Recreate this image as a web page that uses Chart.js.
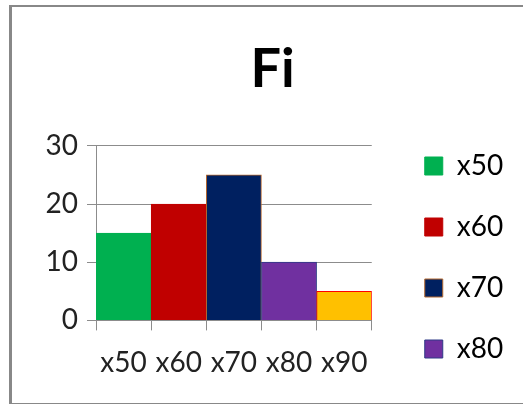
<!DOCTYPE html>
<html lang="en">
  <head>
    <meta charset="UTF-8" />
    <title>Fi</title>
    <script src="https://cdn.jsdelivr.net/npm/chart.js"></script>
    <style>
      html, body { margin: 0; padding: 0; background: #fff; overflow: hidden; }
      .frame {
        position: absolute; left: 9px; top: 5px; width: 600px; height: 396px;
        border-left: 3px solid #888; border-top: 2px solid #888; border-bottom: 3px solid #888;
      }
      .wrap { position: absolute; left: 0; top: 0; width: 523px; height: 404px; }
    </style>
  </head>
  <body>
    <div class="frame"></div>
    <div class="wrap"><canvas id="myChart"></canvas></div>

    <script>
      const labels = ["x50", "x60", "x70", "x80", "x90"];
      const values = [15, 20, 25, 10, 5];
      const yTicks = [0, 10, 20, 30];
      const fills = ["#00b050", "#c00000", "#002060", "#7030a0", "#ffc000"];
      const edges = ["#00b050", "#c00000", "#b5682e", "#2e3a86", "#ff0000"];
      const legendShown = 4; // the fifth entry falls off the bottom of the picture

      const gridColor = "#8c8c8c";
      const font = "Lato";

      // push legend away from the plot, and the title towards the frame's middle
      const nudge = {
        id: "nudge",
        afterLayout(chart) {
          const lg = chart.legend;
          lg.left += 20;
          lg.right += 20;
          const tb = chart.titleBlock;
          tb.left += 18;
          tb.right += 18;
        },
      };

      new Chart(document.getElementById("myChart"), {
        type: "bar",
        data: {
          labels: labels,
          datasets: [
            {
              label: "Fi",
              data: values,
              backgroundColor: fills,
              borderColor: edges,
              borderWidth: 1,
              categoryPercentage: 1,
              barPercentage: 1,
            },
          ],
        },
        options: {
          responsive: true,
          maintainAspectRatio: false,
          animation: false,
          layout: { padding: { left: 20, right: 34, top: 0, bottom: 8 } },
          plugins: {
            tooltip: { enabled: false },
            title: {
              display: true,
              text: "Fi",
              color: "#000",
              font: { family: font, size: 54, weight: "bold" },
              padding: { top: 37, bottom: 44 },
            },
            legend: {
              position: "right",
              align: "end",
              labels: {
                color: "#222",
                font: { family: font, size: 28 },
                boxWidth: 18,
                boxHeight: 18,
                padding: 33,
                generateLabels: (chart) =>
                  labels.slice(0, legendShown).map((t, i) => ({
                    text: t,
                    fillStyle: fills[i],
                    strokeStyle: edges[i],
                    lineWidth: 1,
                    hidden: false,
                    index: i,
                  })),
              },
            },
          },
          scales: {
            x: {
              grid: {
                offset: true,
                drawOnChartArea: false,
                drawTicks: true,
                tickLength: 10,
                color: gridColor,
              },
              border: { color: gridColor },
              ticks: {
                color: "#222",
                font: { family: font, size: 28 },
                padding: 16,
                maxRotation: 0,
              },
            },
            y: {
              min: 0,
              max: 30,
              afterBuildTicks: (s) => {
                s.ticks = yTicks.map((v) => ({ value: v }));
              },
              afterFit: (s) => {
                s.width = 76;
              },
              grid: { color: gridColor, tickLength: 9 },
              border: { color: gridColor },
              ticks: {
                color: "#222",
                font: { family: font, size: 28 },
                padding: 9,
              },
            },
          },
        },
        plugins: [nudge],
      });
    </script>
  </body>
</html>
